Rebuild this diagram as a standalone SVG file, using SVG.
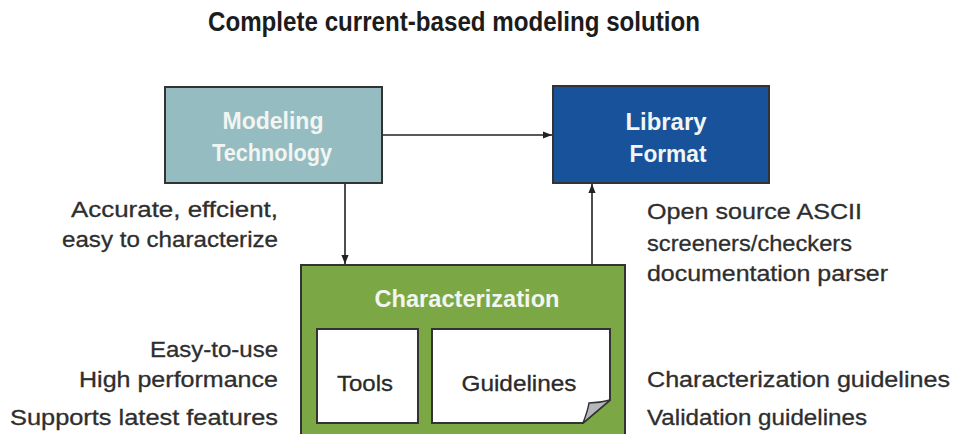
<svg xmlns="http://www.w3.org/2000/svg" width="955" height="434" viewBox="0 0 955 434">
<defs>
<style>
.lbl{font-family:"Liberation Sans","DejaVu Sans",sans-serif;font-size:22px;fill:#2e2e2e;stroke:#2e2e2e;stroke-width:0.3}
.box{stroke:#333;stroke-width:2}
.wt{font-family:"Liberation Sans","DejaVu Sans",sans-serif;font-size:23px;font-weight:bold;fill:#f2f5f2;text-anchor:middle}
.dk{font-family:"Liberation Sans","DejaVu Sans",sans-serif;font-size:22px;fill:#2a2a2a;stroke:#2a2a2a;stroke-width:0.3;text-anchor:middle}
.ln{stroke:#222;stroke-width:1.6;fill:none}
</style>
<marker id="ah" viewBox="0 0 10 10" refX="10" refY="5" markerWidth="9" markerHeight="9" markerUnits="userSpaceOnUse" orient="auto">
<path d="M0,1 L10,5 L0,9 Z" fill="#222"/>
</marker>
</defs>
<rect width="955" height="434" fill="#fff"/>
<text x="454" y="31" text-anchor="middle" font-family="'Liberation Sans',sans-serif" font-weight="bold" font-size="27" fill="#1c1c1c" textLength="492" lengthAdjust="spacingAndGlyphs">Complete current-based modeling solution</text>

<g id="connectors">
<line class="ln" x1="382" y1="135" x2="552" y2="135" marker-end="url(#ah)"/>
<line class="ln" x1="345" y1="183" x2="345" y2="264" marker-end="url(#ah)"/>
<line class="ln" x1="592" y1="265" x2="592" y2="184" marker-end="url(#ah)"/>
</g>

<g id="modeling">
<rect class="box" x="165" y="87" width="217" height="96" fill="#95bdc1"/>
<text class="wt" x="273" y="129" textLength="101" lengthAdjust="spacingAndGlyphs">Modeling</text>
<text class="wt" x="272" y="161" textLength="120" lengthAdjust="spacingAndGlyphs">Technology</text>
</g>

<g id="library">
<rect class="box" x="553" y="86" width="216" height="97" fill="#17529b"/>
<text class="wt" x="666" y="130" textLength="81" lengthAdjust="spacingAndGlyphs">Library</text>
<text class="wt" x="668" y="162" textLength="77" lengthAdjust="spacingAndGlyphs">Format</text>
</g>

<g id="characterization">
<rect class="box" x="301" y="265" width="324" height="180" fill="#7ba844"/>
<text class="wt" x="467" y="307" textLength="185" lengthAdjust="spacingAndGlyphs">Characterization</text>
</g>

<g id="tools">
<rect class="box" x="317" y="329" width="101" height="94" fill="#fff"/>
<text class="dk" x="365" y="391" textLength="56" lengthAdjust="spacingAndGlyphs">Tools</text>
</g>

<g id="guidelines">
<path class="box" d="M432,329 H610 V400 L583,423 H432 Z" fill="#fff"/>
<path d="M583,423 Q588,410 589,403 Q600,403 610,400 Z" fill="#b4b8bd" stroke="#333" stroke-width="1.5"/>
<text class="dk" x="519" y="391" textLength="115" lengthAdjust="spacingAndGlyphs">Guidelines</text>
</g>

<g id="labels">
<text class="lbl" x="278" y="217" text-anchor="end" textLength="207" lengthAdjust="spacingAndGlyphs">Accurate, effcient,</text>
<text class="lbl" x="278" y="247" text-anchor="end" textLength="216" lengthAdjust="spacingAndGlyphs">easy to characterize</text>
<text class="lbl" x="278" y="357" text-anchor="end" textLength="128" lengthAdjust="spacingAndGlyphs">Easy-to-use</text>
<text class="lbl" x="278" y="387" text-anchor="end" textLength="199" lengthAdjust="spacingAndGlyphs">High performance</text>
<text class="lbl" x="278" y="425" text-anchor="end" textLength="268" lengthAdjust="spacingAndGlyphs">Supports latest features</text>
<text class="lbl" x="647" y="219" textLength="215" lengthAdjust="spacingAndGlyphs">Open source ASCII</text>
<text class="lbl" x="647" y="251" textLength="205" lengthAdjust="spacingAndGlyphs">screeners/checkers</text>
<text class="lbl" x="647" y="281" textLength="241" lengthAdjust="spacingAndGlyphs">documentation parser</text>
<text class="lbl" x="647" y="387" textLength="303" lengthAdjust="spacingAndGlyphs">Characterization guidelines</text>
<text class="lbl" x="647" y="425" textLength="220" lengthAdjust="spacingAndGlyphs">Validation guidelines</text>
</g>
</svg>
